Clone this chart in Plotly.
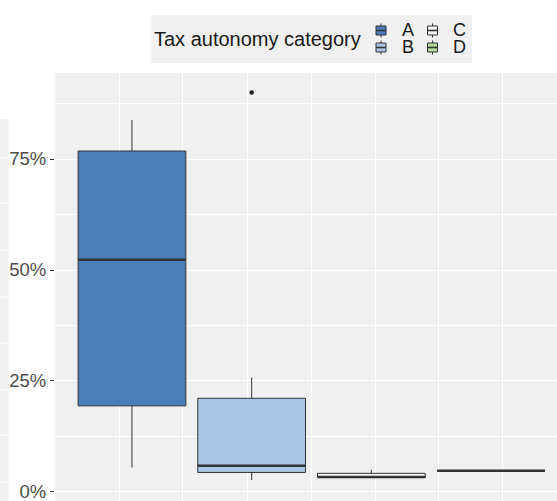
import plotly.graph_objects as go

# Five-number summaries per tax autonomy category (values in %)
categories = ["A", "B", "C", "D"]
lower_whisker = [5.5, 2.7, 3.2, 4.8]
q1 = [19.4, 4.4, 3.2, 4.8]
median = [52.3, 5.9, 3.4, 4.8]
q3 = [76.8, 21.1, 4.2, 4.8]
upper_whisker = [83.8, 25.8, 5.0, 4.8]

# Points beyond the whiskers
outlier_category = ["B"]
outlier_value = [90.0]

y_ticks = [0, 25, 50, 75]
y_tick_labels = ["0%", "25%", "50%", "75%"]

fills = {"A": "#4A7DBA", "B": "#ABC6E5", "C": "#F8F8F8", "D": "#B5D79E"}
OUTLINE = "#333333"
PANEL = "#F0F0F0"
FONT = "Liberation Sans, Arial, sans-serif"

W, H = 557, 501
ML, MT = 55, 73
BOX_W = 0.9

pos = {c: i + 1 for i, c in enumerate(categories)}


def px(x):
    """Horizontal pixel -> paper coordinate."""
    return (x - ML) / (W - ML)


def py(y):
    """Vertical pixel -> paper coordinate."""
    return (H - y) / (H - MT)


fig = go.Figure()

for i, c in enumerate(categories):
    fig.add_trace(go.Box(
        x=[pos[c]], q1=[q1[i]], median=[median[i]], q3=[q3[i]],
        lowerfence=[lower_whisker[i]], upperfence=[upper_whisker[i]],
        width=BOX_W, fillcolor=fills[c],
        line=dict(color=OUTLINE, width=1), whiskerwidth=0,
        boxpoints=False, showlegend=False, name=c,
    ))

# heavier median bars, as in ggplot boxplots
for i, c in enumerate(categories):
    fig.add_trace(go.Scatter(
        x=[pos[c] - BOX_W / 2, pos[c] + BOX_W / 2], y=[median[i], median[i]],
        mode="lines", line=dict(color=OUTLINE, width=2.4),
        showlegend=False, hoverinfo="skip",
    ))

fig.add_trace(go.Scatter(
    x=[pos[c] for c in outlier_category], y=outlier_value, mode="markers",
    marker=dict(color="#1A1A1A", size=4.5), showlegend=False,
))

shapes = []
annotations = []

# edge of the neighbouring facet panel
shapes.append(dict(type="rect", xref="paper", yref="paper",
                   x0=px(0), x1=px(8.5), y0=py(H), y1=py(119),
                   fillcolor=PANEL, line=dict(width=0), layer="below"))
for gy in [158, 203, 250, 297, 343, 390, 435, 482]:
    shapes.append(dict(type="line", xref="paper", yref="paper",
                       x0=px(0), x1=px(8.5), y0=py(gy), y1=py(gy),
                       line=dict(color="white", width=1)))

# legend
shapes.append(dict(type="rect", xref="paper", yref="paper",
                   x0=px(151), x1=px(472), y0=py(63), y1=py(15),
                   fillcolor=PANEL, line=dict(width=0)))
annotations.append(dict(text="Tax autonomy category", xref="paper", yref="paper",
                        x=px(152), y=py(39), xanchor="left", yanchor="middle",
                        showarrow=False, font=dict(family=FONT, size=20, color="#1A1A1A")))

key_pos = {"A": (381, 30.5), "B": (381, 47.5), "C": (432.5, 30.5), "D": (432.5, 47.5)}
for c in categories:
    cx, cy = key_pos[c]
    shapes.append(dict(type="line", xref="paper", yref="paper",
                       x0=px(cx), x1=px(cx), y0=py(cy - 7), y1=py(cy + 7),
                       line=dict(color=OUTLINE, width=1)))
    shapes.append(dict(type="rect", xref="paper", yref="paper",
                       x0=px(cx - 5), x1=px(cx + 5), y0=py(cy + 4.5), y1=py(cy - 4.5),
                       fillcolor=fills[c], line=dict(color=OUTLINE, width=1)))
    shapes.append(dict(type="line", xref="paper", yref="paper",
                       x0=px(cx - 5), x1=px(cx + 5), y0=py(cy), y1=py(cy),
                       line=dict(color=OUTLINE, width=1.6)))
    annotations.append(dict(text=c, xref="paper", yref="paper",
                            x=px(cx + 19.5), y=py(cy), xanchor="left", yanchor="middle",
                            showarrow=False, borderpad=0,
                            font=dict(family=FONT, size=18, color="#1A1A1A")))

fig.update_layout(
    width=W, height=H,
    margin=dict(l=ML, r=0, t=MT, b=0, pad=0),
    paper_bgcolor="white", plot_bgcolor=PANEL,
    font=dict(family=FONT),
    showlegend=False,
    shapes=shapes, annotations=annotations,
    boxmode="overlay",
)

fig.update_xaxes(
    range=[0.357, 4.551], tickvals=[1.426, 2.496, 3.557], showticklabels=False,
    ticks="", showgrid=True, gridcolor="white", gridwidth=1.1, zeroline=False,
    showline=False, automargin=False,
    minor=dict(tickvals=[0.9, 1.969, 3.031, 4.092], showgrid=True,
               gridcolor="white", gridwidth=0.5, ticks=""),
)
fig.update_yaxes(
    range=[-2.03, 94.37], tickvals=y_ticks, ticktext=y_tick_labels,
    ticks="outside", ticklen=4, tickwidth=1, tickcolor=OUTLINE,
    tickfont=dict(family=FONT, size=18.5, color="#4D4D4D"),
    ticklabeloverflow="allow",
    showgrid=True, gridcolor="white", gridwidth=1.1, zeroline=False,
    showline=False, automargin=False,
    minor=dict(tickvals=[12.5, 37.5, 62.5, 87.5], showgrid=True,
               gridcolor="white", gridwidth=0.5, ticks=""),
)

fig.write_html("out.html")
